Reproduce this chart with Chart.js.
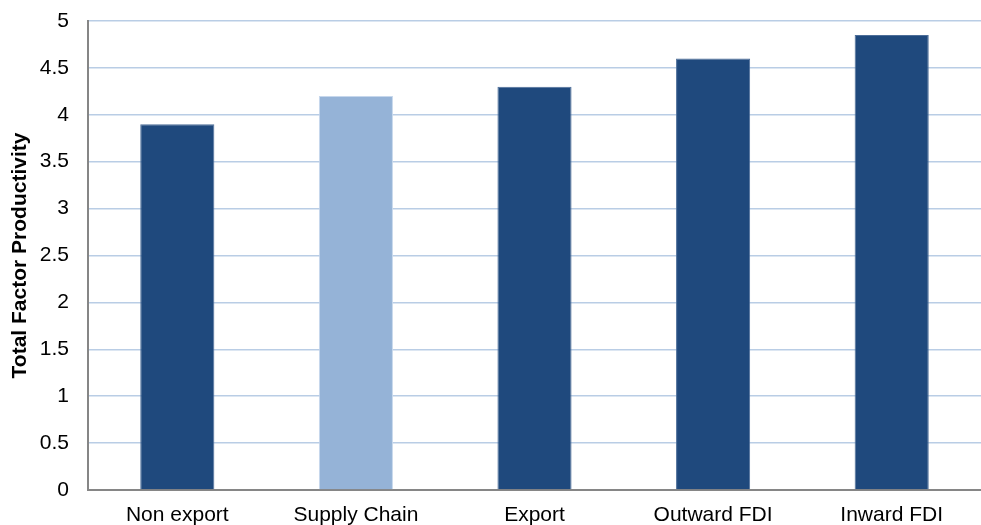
<!DOCTYPE html>
<html>
<head>
<meta charset="utf-8">
<script src="https://cdn.jsdelivr.net/npm/chart.js@4/dist/chart.umd.min.js"></script>
<style>
html,body{margin:0;padding:0;background:#fff;}
#wrap{width:981px;height:525px;position:relative;}
</style>
</head>
<body>
<div id="wrap"><canvas id="c" width="981" height="525"></canvas></div>
<script>
const categories = ["Non export", "Supply Chain", "Export", "Outward FDI", "Inward FDI"];
const tfpValues = [3.9, 4.2, 4.3, 4.6, 4.85];
const barColors = ["#1F497D", "#95B3D7", "#1F497D", "#1F497D", "#1F497D"];
const barBorders = ["#4D6E99", "#C6D7EC", "#4D6E99", "#4D6E99", "#4D6E99"];
const yTitle = "Total Factor Productivity";
const yMin = 0, yMax = 5, yStep = 0.5;

const font = "'Liberation Sans', Arial, sans-serif";
new Chart(document.getElementById('c'), {
  type: 'bar',
  data: {
    labels: categories,
    datasets: [{
      data: tfpValues,
      backgroundColor: barColors,
      borderColor: barBorders,
      borderWidth: 1,
      barPercentage: 0.415,
      categoryPercentage: 1.0
    }]
  },
  options: {
    responsive: false,
    animation: false,
    layout: { padding: { top: 21, right: 0, left: 0, bottom: 0 } },
    plugins: { legend: { display: false }, tooltip: { enabled: false } },
    scales: {
      x: {
        grid: { display: false, drawTicks: false },
        border: { display: true, color: '#868686', width: 2 },
        ticks: { color: '#000', font: { family: font, size: 21 }, padding: 13, maxRotation: 0 },
        afterFit: s => { s.height = 35; s.paddingLeft = 0; s.paddingRight = 0; }
      },
      y: {
        min: yMin, max: yMax,
        grid: { color: '#B9CDE5', lineWidth: 1.5, drawTicks: false },
        border: { display: true, color: '#868686', width: 2 },
        ticks: { stepSize: yStep, color: '#000', font: { family: font, size: 21 }, padding: 19,
                 callback: v => String(Number(v)) },
        title: { display: true, text: yTitle, color: '#000', font: { family: font, size: 21, weight: 'bold' }, padding: { top: 8, bottom: 0 } },
        afterFit: s => { s.width = 88; s.paddingTop = 0; s.paddingBottom = 0; }
      }
    }
  }
});
</script>
</body>
</html>
